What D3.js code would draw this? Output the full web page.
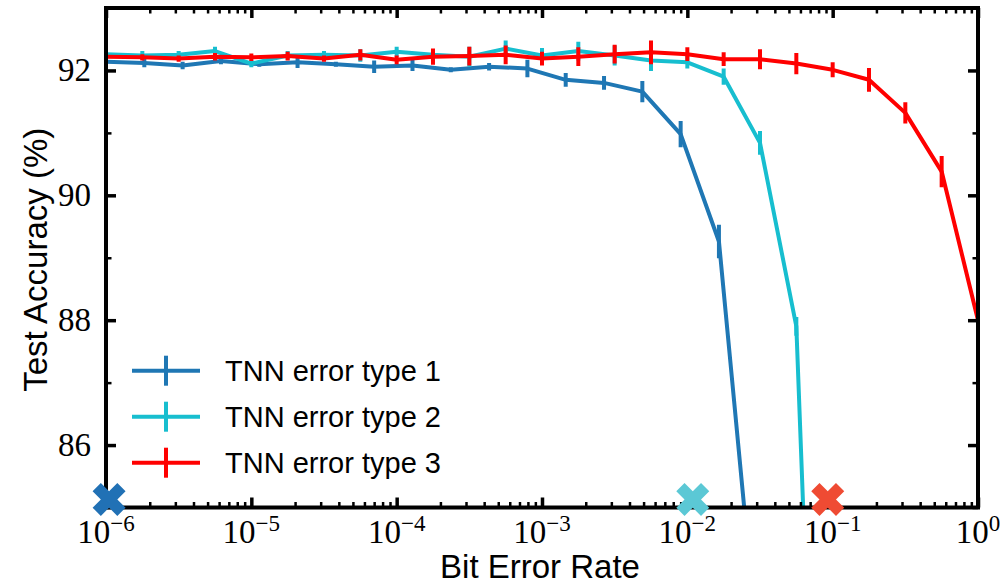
<!DOCTYPE html>
<html><head><meta charset="utf-8">
<script src="https://cdn.jsdelivr.net/npm/d3@7"></script>
<style>body{margin:0;background:#fff}</style>
</head><body>
<svg id="c" width="1002" height="586"></svg>
<script>
// ---- data ----
const seriesNames = ["TNN error type 1", "TNN error type 2", "TNN error type 3"];
const seriesColors = ["#1f77b4", "#17becf", "#ff0000"];

// bit error rates (type 1 grid)
const ber1 = [1.0e-6, 1.835e-6, 3.367e-6, 6.178e-6, 1.134e-5, 2.080e-5, 3.816e-5, 7.00e-5,
  1.285e-4, 2.357e-4, 4.325e-4, 7.935e-4, 1.456e-3, 2.672e-3, 4.902e-3, 8.995e-3, 1.650e-2, 3.028e-2];
const acc1 = [92.14, 92.12, 92.08, 92.15, 92.10, 92.13, 92.10, 92.06, 92.08, 92.01, 92.06, 92.03,
  91.85, 91.80, 91.66, 90.98, 89.26, 82.8];
const err1 = [0.03, 0.07, 0.06, 0.05, 0.04, 0.09, 0.04, 0.10, 0.09, 0.04, 0.06, 0.14,
  0.11, 0.11, 0.17, 0.21, 0.27, 0.30];

// bit error rates (types 2 and 3 grid)
const ber23 = [1e-6, 1.778e-6, 3.162e-6, 5.623e-6, 1e-5, 1.778e-5, 3.162e-5, 5.623e-5,
  1e-4, 1.778e-4, 3.162e-4, 5.623e-4, 1e-3, 1.778e-3, 3.162e-3, 5.623e-3,
  1e-2, 1.778e-2, 3.162e-2, 5.623e-2, 0.1, 0.1778, 0.3162, 0.5623, 1];
const acc2 = [92.26, 92.24, 92.25, 92.31, 92.11, 92.24, 92.25, 92.24, 92.30, 92.25, 92.22, 92.35,
  92.24, 92.31, 92.24, 92.16, 92.13, 91.90, 90.84, 87.9, 72.5];
const err2 = [0.03, 0.07, 0.06, 0.07, 0.06, 0.07, 0.06, 0.10, 0.08, 0.06, 0.16, 0.13,
  0.12, 0.15, 0.16, 0.17, 0.10, 0.13, 0.19, 0.15, 0.20];
const acc3 = [92.22, 92.21, 92.19, 92.22, 92.21, 92.23, 92.19, 92.25, 92.17, 92.22, 92.23, 92.25,
  92.19, 92.22, 92.26, 92.29, 92.26, 92.18, 92.18, 92.11, 92.01, 91.85, 91.32, 90.38, 88.0];
const err3 = [0.03, 0.05, 0.05, 0.06, 0.06, 0.07, 0.05, 0.09, 0.07, 0.13, 0.15, 0.15,
  0.11, 0.15, 0.15, 0.19, 0.11, 0.11, 0.16, 0.17, 0.12, 0.19, 0.17, 0.25, 0.05];

// threshold markers
const markerBer = [1.05e-6, 1.09e-2, 0.0925];
const markerAcc = [85.13, 85.13, 85.13];
const markerColors = ["#2171b5", "#5bc8d5", "#ef4b33"];

const yTicks = [86, 88, 90, 92];
const yMinor = [85, 87, 89, 91, 93];
const xExps = [-6, -5, -4, -3, -2, -1, 0];

// ---- layout ----
const L = 106, R = 978, T = 8, B = 507.5;
const svg = d3.select("#c");
const x = d3.scaleLog().domain([1e-6, 1]).range([L, R]);
const y = d3.scaleLinear().domain([85, 93]).range([B, T]);

svg.append("defs").append("clipPath").attr("id", "clip")
  .append("rect").attr("x", L).attr("y", T).attr("width", R - L).attr("height", B - T);

const series = [
  {x: ber1, y: acc1, e: err1},
  {x: ber23, y: acc2, e: err2},
  {x: ber23, y: acc3, e: err3}
];

const plot = svg.append("g").attr("clip-path", "url(#clip)");
const line = d3.line().x(d => x(d[0])).y(d => y(d[1]));
series.forEach((s, i) => {
  const pts = s.x.slice(0, s.y.length).map((v, j) => [v, s.y[j], s.e[j]]);
  const g = plot.append("g");
  g.selectAll("line").data(pts).enter().append("line")
    .attr("x1", d => x(d[0])).attr("x2", d => x(d[0]))
    .attr("y1", d => y(d[1] - d[2])).attr("y2", d => y(d[1] + d[2]))
    .attr("stroke", seriesColors[i]).attr("stroke-width", 4);
  g.append("path").datum(pts).attr("d", line)
    .attr("fill", "none").attr("stroke", seriesColors[i]).attr("stroke-width", 4)
    .attr("stroke-linejoin", "round");
});

// ---- axes (inward ticks on all sides) ----
const axG = svg.append("g");
const minorX = [];
for (let e = -6; e < 0; e++) for (let m = 2; m <= 9; m++) minorX.push(m * Math.pow(10, e));
const majorX = xExps.map(e => Math.pow(10, e));

function addAxis(axisFn, scale, ticks, size, width, transform) {
  const g = axG.append("g").attr("transform", transform)
    .call(axisFn(scale).tickValues(ticks).tickSize(size).tickFormat(""));
  g.select(".domain").remove();
  g.selectAll(".tick line").attr("stroke", "#000").attr("stroke-width", width);
}
addAxis(d3.axisTop, x, majorX, 10, 3.5, `translate(0,${B})`);
addAxis(d3.axisTop, x, minorX, 5.5, 2.5, `translate(0,${B})`);
addAxis(d3.axisBottom, x, majorX, 10, 3.5, `translate(0,${T})`);
addAxis(d3.axisBottom, x, minorX, 5.5, 2.5, `translate(0,${T})`);
addAxis(d3.axisRight, y, yTicks, 10, 3.5, `translate(${L},0)`);
addAxis(d3.axisRight, y, yMinor, 5.5, 2.5, `translate(${L},0)`);
addAxis(d3.axisLeft, y, yTicks, 10, 3.5, `translate(${R},0)`);
addAxis(d3.axisLeft, y, yMinor, 5.5, 2.5, `translate(${R},0)`);

axG.append("rect").attr("x", L).attr("y", T).attr("width", R - L).attr("height", B - T)
  .attr("fill", "none").attr("stroke", "#000").attr("stroke-width", 4);

// tick labels
const serif = "'Liberation Serif', 'Times New Roman', serif";
svg.append("g").selectAll("text").data(yTicks).enter().append("text")
  .attr("x", 91).attr("y", d => y(d) + 11).attr("text-anchor", "end")
  .attr("font-family", serif).attr("font-size", 33).text(d => d);

const xl = svg.append("g").selectAll("text").data(xExps).enter().append("text")
  .attr("x", d => x(Math.pow(10, d))).attr("y", 543).attr("text-anchor", "middle")
  .attr("font-family", serif).attr("font-size", 33);
xl.append("tspan").text("10");
xl.append("tspan").attr("dy", -12).attr("font-size", 23)
  .text(d => d === 0 ? "0" : "\u2212" + Math.abs(d));

// axis titles
const sans = "'Liberation Sans', Arial, sans-serif";
svg.append("text").attr("x", 540).attr("y", 578).attr("text-anchor", "middle")
  .attr("font-family", sans).attr("font-size", 33).text("Bit Error Rate");
svg.append("text").attr("transform", `translate(47,${(T + B) / 2 + 2}) rotate(-90)`)
  .attr("text-anchor", "middle").attr("font-family", sans).attr("font-size", 33)
  .text("Test Accuracy (%)");

// legend
const lg = svg.append("g");
seriesNames.forEach((n, i) => {
  const cy = 370.7 + i * 46;
  lg.append("line").attr("x1", 132).attr("x2", 200).attr("y1", cy).attr("y2", cy)
    .attr("stroke", seriesColors[i]).attr("stroke-width", 4);
  lg.append("line").attr("x1", 166).attr("x2", 166).attr("y1", cy - 15).attr("y2", cy + 15)
    .attr("stroke", seriesColors[i]).attr("stroke-width", 4);
  lg.append("text").attr("x", 225).attr("y", cy + 10).attr("font-family", sans)
    .attr("font-size", 29).text(n);
});

// X markers (on top, not clipped)
const sym = d3.symbol().type(d3.symbolCross).size(680);
svg.append("g").selectAll("path").data(markerBer).enter().append("path")
  .attr("d", sym)
  .attr("transform", (d, i) => `translate(${x(d)},${y(markerAcc[i])}) rotate(45)`)
  .attr("fill", (d, i) => markerColors[i]);
</script>
</body></html>
